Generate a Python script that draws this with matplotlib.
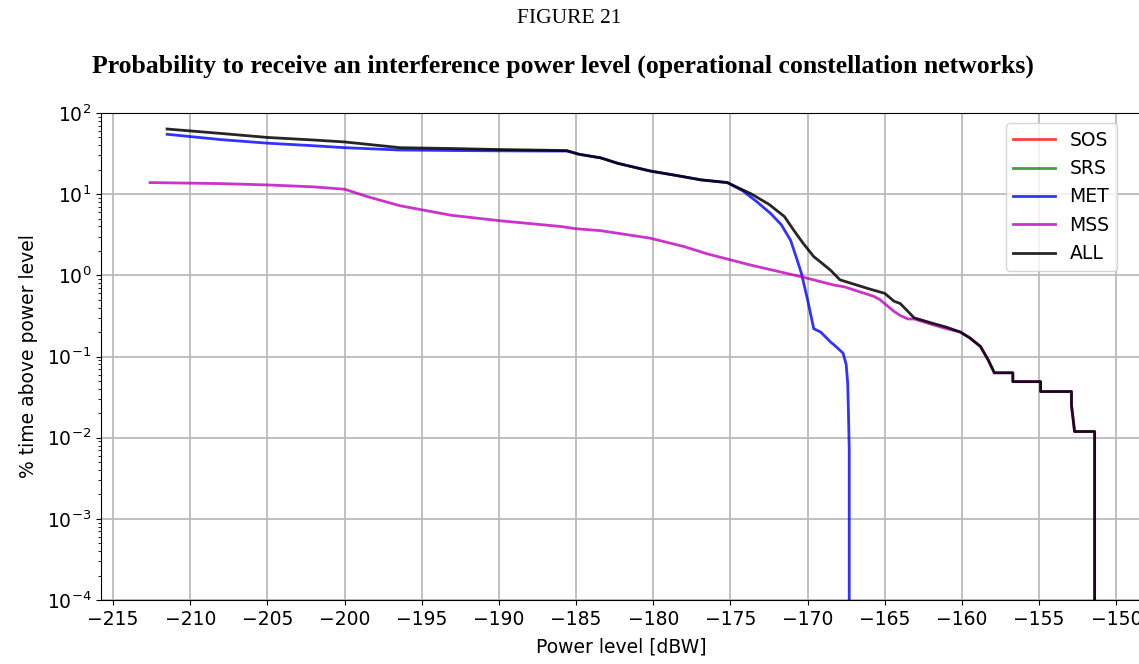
import matplotlib.pyplot as plt
from matplotlib.ticker import LogLocator, NullFormatter

# ---- Data (x in dBW, y in % time) ----
met_x = [-211.5, -208, -205, -202, -200, -196.4, -193, -190, -187, -185.6, -184.8,
         -183.4, -182.3, -180.2, -178.5, -176.9, -175.2, -174.2, -173.3, -172.4,
         -171.7, -171.1, -170.7, -170.4, -170.0, -169.6, -169.15, -168.5, -168.3,
         -167.7, -167.5, -167.4, -167.35, -167.3, -167.3]
met_y = [54.7, 47, 42.5, 39.5, 37.4, 35, 34.5, 34.2, 34.0, 34.0, 31,
         28, 24, 19.3, 17, 15, 13.9, 11, 8.1, 5.8,
         4.2, 2.7, 1.6, 1.06, 0.5, 0.22, 0.2, 0.15, 0.14,
         0.11, 0.08, 0.047, 0.02, 0.007, 0.00001]

mss_x = [-212.6, -208, -205, -202, -200, -198.5, -196.4, -193.1, -189.9, -186,
         -185, -183.4, -180.2, -178.0, -176.5, -173.7, -170.4, -168.3, -167.6,
         -165.7, -165.3, -164.4, -164.0, -163.5, -163.1, -162.0, -161.0, -160.1,
         -159.5, -158.8, -158.3, -157.9, -156.7, -156.7, -154.9, -154.9, -152.9,
         -152.9, -152.7, -152.7, -151.4, -151.4]
mss_y = [13.9, 13.5, 13.0, 12.3, 11.5, 9.3, 7.2, 5.5, 4.7, 4.0,
         3.75, 3.55, 2.87, 2.26, 1.84, 1.34, 0.96, 0.76, 0.72,
         0.55, 0.5, 0.36, 0.32, 0.29, 0.29, 0.25, 0.22, 0.2,
         0.17, 0.133, 0.091, 0.063, 0.063, 0.049, 0.049, 0.037, 0.037,
         0.025, 0.0119, 0.0119, 0.0119, 0.00001]

all_x = [-211.5, -208, -205, -202, -200, -196.4, -193, -190, -187, -185.6, -184.8,
         -183.4, -182.3, -180.2, -178.5, -176.9, -175.2, -174.5, -173.7, -172.5,
         -171.5, -170.9, -170.3, -169.6, -169.2, -168.5, -167.9, -167.2, -166.0,
         -165.0, -164.4, -164.0, -163.5, -163.1, -162.0, -161.0, -160.1, -159.5,
         -158.8, -158.3, -157.9, -156.7, -156.7, -154.9, -154.9, -152.9, -152.9,
         -152.7, -152.7, -151.4, -151.4]
all_y = [63.5, 56, 50, 46.5, 44, 37.4, 36.5, 35.5, 34.8, 34.4, 31,
         28, 24, 19.3, 17, 15, 13.9, 12.0, 10.2, 7.5,
         5.3, 3.6, 2.5, 1.7, 1.48, 1.15, 0.88, 0.8, 0.68,
         0.6, 0.48, 0.45, 0.36, 0.3, 0.26, 0.23, 0.2, 0.17,
         0.133, 0.091, 0.063, 0.063, 0.049, 0.049, 0.037, 0.037, 0.025,
         0.0119, 0.0119, 0.0119, 0.00001]

sos_x, sos_y = [], []
srs_x, srs_y = [], []

x_ticks = [-215, -210, -205, -200, -195, -190, -185, -180, -175, -170, -165, -160, -155, -150]

# ---- Plot ----
fig = plt.figure(figsize=(11.39, 6.64), dpi=100)
ax = fig.add_axes([0.0887, 0.0964, 0.913, 0.7334])

ax.plot(sos_x, sos_y, color="red", alpha=0.75, lw=2, label="SOS")
ax.plot(srs_x, srs_y, color="green", alpha=0.75, lw=2, label="SRS")
ax.plot(met_x, met_y, color="blue", alpha=0.8, lw=2, label="MET")
ax.plot(mss_x, mss_y, color="m", alpha=0.8, lw=2, label="MSS")
ax.plot(all_x, all_y, color="black", alpha=0.85, lw=2, label="ALL")

ax.set_yscale("log")
ax.set_ylim(1e-4, 1e2)
ax.set_xlim(-215.78, -148.4)
ax.set_xticks(x_ticks)
ax.yaxis.set_minor_locator(LogLocator(base=10, subs=range(2, 10), numticks=20))
ax.yaxis.set_minor_formatter(NullFormatter())
ax.grid(True, which="major", color="#bbbbbb", lw=1.3)
ax.tick_params(labelsize=13.5)
ax.set_xlabel("Power level [dBW]", fontsize=13.5, labelpad=6)
ax.set_ylabel("% time above power level", fontsize=13.5, labelpad=6)
ax.legend(loc="upper right", fontsize=13.5, handlelength=2.2, borderaxespad=0,
          bbox_to_anchor=(0.977, 0.979))

fig.text(0.5, 0.972, "FIGURE 21", ha="center", va="center",
         family="Liberation Serif", fontsize=15.5)
fig.text(0.494, 0.9, "Probability to receive an interference power level (operational constellation networks)",
         ha="center", va="center", family="Liberation Serif", fontweight="bold", fontsize=18.5)

fig.savefig("out.png", dpi=100)
